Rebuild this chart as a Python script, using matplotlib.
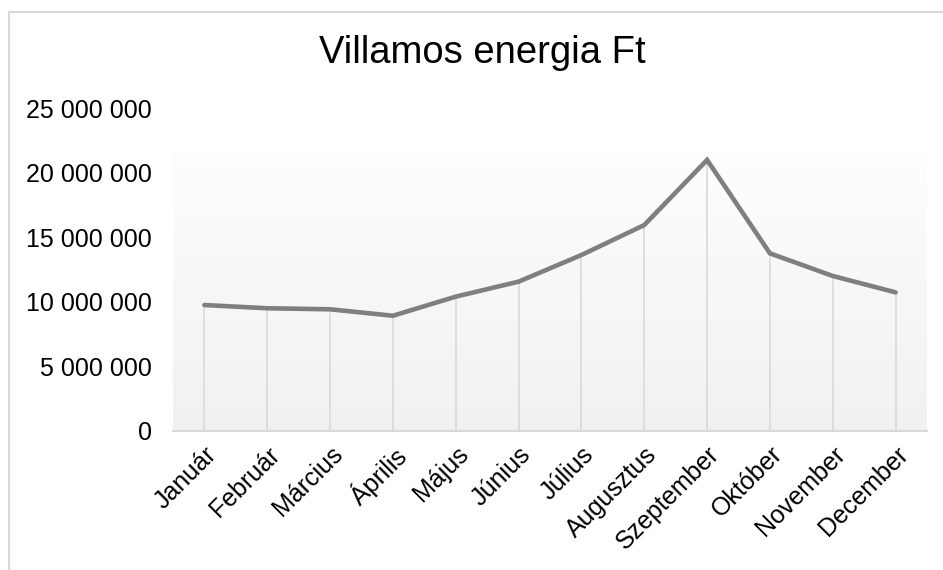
import matplotlib
matplotlib.use("Agg")
import matplotlib.pyplot as plt
import numpy as np
from matplotlib.lines import Line2D
from matplotlib.ticker import FuncFormatter

months = ["Január", "Február", "Március", "Április", "Május", "Június",
          "Július", "Augusztus", "Szeptember", "Október", "November", "December"]
values = [9750000, 9500000, 9420000, 8920000, 10400000, 11560000,
          13620000, 15940000, 20980000, 13750000, 12000000, 10730000]
y_ticks = [0, 5000000, 10000000, 15000000, 20000000, 25000000]
title = "Villamos energia Ft"

plt.rcParams['font.family'] = ['Liberation Sans', 'DejaVu Sans']

fig = plt.figure(figsize=(9.43, 5.70), dpi=100)
ax = fig.add_axes([173/943, 1 - 431/570, 754/943, (431-108)/570])

x = np.arange(len(months))
ax.set_xlim(-0.5, len(months) - 0.5)
ax.set_ylim(0, 25000000)

# gradient plot-area background
grad_top = 25000000 * (431 - 150) / (431 - 108)
g = np.linspace(0, 1, 256).reshape(-1, 1)
top_c = np.array([0.995, 0.995, 0.995])
bot_c = np.array([0.945, 0.945, 0.945])
img = bot_c[None, None, :] * (1 - g[:, :, None]) + top_c[None, None, :] * g[:, :, None]
ax.imshow(img, extent=[-0.5, len(months) - 0.5, 0, grad_top], origin='lower',
          aspect='auto', zorder=0)

# drop lines
ax.vlines(x, 0, values, colors='#d9d9d9', linewidth=1.2, zorder=1)
# main line
ax.plot(x, values, color='#7f7f7f', linewidth=3.3, solid_joinstyle='miter',
        solid_capstyle='round', zorder=3)

for s in ['top', 'right', 'left']:
    ax.spines[s].set_visible(False)
ax.spines['bottom'].set_color('#d9d9d9')
ax.spines['bottom'].set_linewidth(1.5)
ax.spines['bottom'].set_zorder(2)

ax.set_yticks(y_ticks)
ax.yaxis.set_major_formatter(FuncFormatter(lambda v, p: f"{int(v):,}".replace(",", " ")))
ax.tick_params(axis='y', length=0, pad=15, labelsize=18, labelcolor='#000000')
ax.set_xticks(x)
ax.set_xticklabels(months, rotation=45, ha='right', va='top', rotation_mode='anchor')
ax.tick_params(axis='x', length=0, pad=8, labelsize=18, labelcolor='#000000')

fig.text(482/943, 1 - 53/570, title, ha='center', va='center', fontsize=27.5)

# chart border
fig.add_artist(Line2D([9/943, 1], [1 - 12/570, 1 - 12/570], transform=fig.transFigure,
                      color='#d9d9d9', linewidth=1.5))
fig.add_artist(Line2D([9/943, 9/943], [0, 1 - 12/570], transform=fig.transFigure,
                      color='#d9d9d9', linewidth=1.5))

fig.savefig("out.png", dpi=100)
